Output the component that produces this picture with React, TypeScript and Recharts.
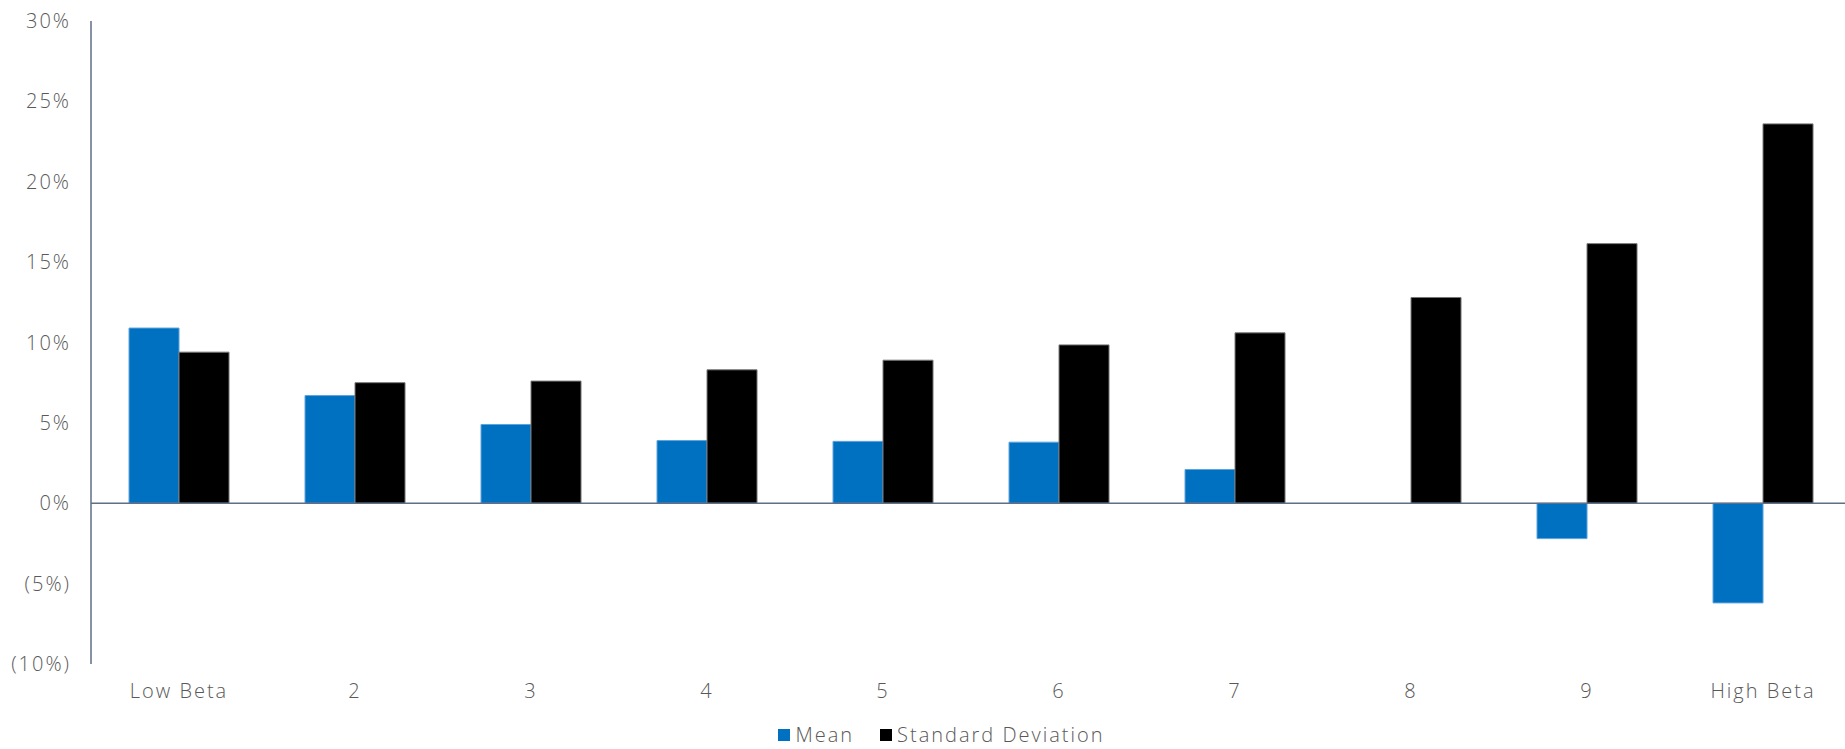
import { BarChart, Bar, XAxis, YAxis, ReferenceLine, Legend } from 'recharts';

const categories = ['Low Beta', '2', '3', '4', '5', '6', '7', '8', '9', 'High Beta'];
const meanValues = [10.9, 6.7, 4.9, 3.9, 3.85, 3.8, 2.1, 0, -2.2, -6.2];
const stdDevValues = [9.4, 7.5, 7.6, 8.3, 8.9, 9.85, 10.6, 12.8, 16.15, 23.6];
const yTicks = [-10, -5, 0, 5, 10, 15, 20, 25, 30];

const data = categories.map((name, i) => ({
  name,
  mean: meanValues[i],
  std: stdDevValues[i],
}));

const FONT = '"Open Sans", sans-serif';
const TEXT = '#595959';
const AXIS = '#5f6f87';
const tickStyle = { fill: TEXT, fontSize: 20, fontFamily: FONT, fontWeight: 300, letterSpacing: 2 };

const fmtPct = (v: number) => (v < 0 ? `(${Math.abs(v)}%)` : `${v}%`);

function LegendContent() {
  const items = [
    { label: 'Mean', color: '#0070C0' },
    { label: 'Standard Deviation', color: '#000000' },
  ];
  return (
    <div style={{ display: 'flex', justifyContent: 'center', gap: 26, fontFamily: FONT, fontWeight: 300, fontSize: 20, lineHeight: '20px', color: TEXT, letterSpacing: 2, paddingLeft: 32 }}>
      {items.map((it) => (
        <div key={it.label} style={{ display: 'flex', alignItems: 'center', gap: 5 }}>
          <span style={{ width: 12, height: 12, background: it.color, display: 'inline-block' }} />
          <span>{it.label}</span>
        </div>
      ))}
    </div>
  );
}

export default function App() {
  return (
    <div style={{ position: 'absolute', left: 0, top: 0, width: 1845, height: 749, overflow: 'hidden', background: '#fff' }}>
      <BarChart
        width={1851}
        height={749}
        data={data}
        margin={{ top: 21, right: 0, left: 0, bottom: 0 }}
        barCategoryGap="21.6%"
        barGap={0}
      >
        <XAxis
          dataKey="name"
          axisLine={false}
          tickLine={false}
          tickMargin={14}
          height={52}
          tick={tickStyle}
          interval={0}
        />
        <YAxis
          width={91}
          domain={[-10, 30]}
          ticks={yTicks}
          tickFormatter={fmtPct}
          axisLine={{ stroke: AXIS, strokeWidth: 1.5 }}
          tickLine={false}
          tickMargin={14}
          tick={tickStyle}
          interval={0}
        />
        <ReferenceLine y={0} stroke={AXIS} strokeWidth={1.5} />
        <Legend verticalAlign="bottom" height={33} wrapperStyle={{ bottom: -9 }} content={<LegendContent />} />
        <Bar dataKey="mean" name="Mean" fill="#0070C0" stroke="#5ea3dc" strokeWidth={1} isAnimationActive={false} />
        <Bar dataKey="std" name="Standard Deviation" fill="#000000" stroke="#777" strokeWidth={1} isAnimationActive={false} />
      </BarChart>
    </div>
  );
}
